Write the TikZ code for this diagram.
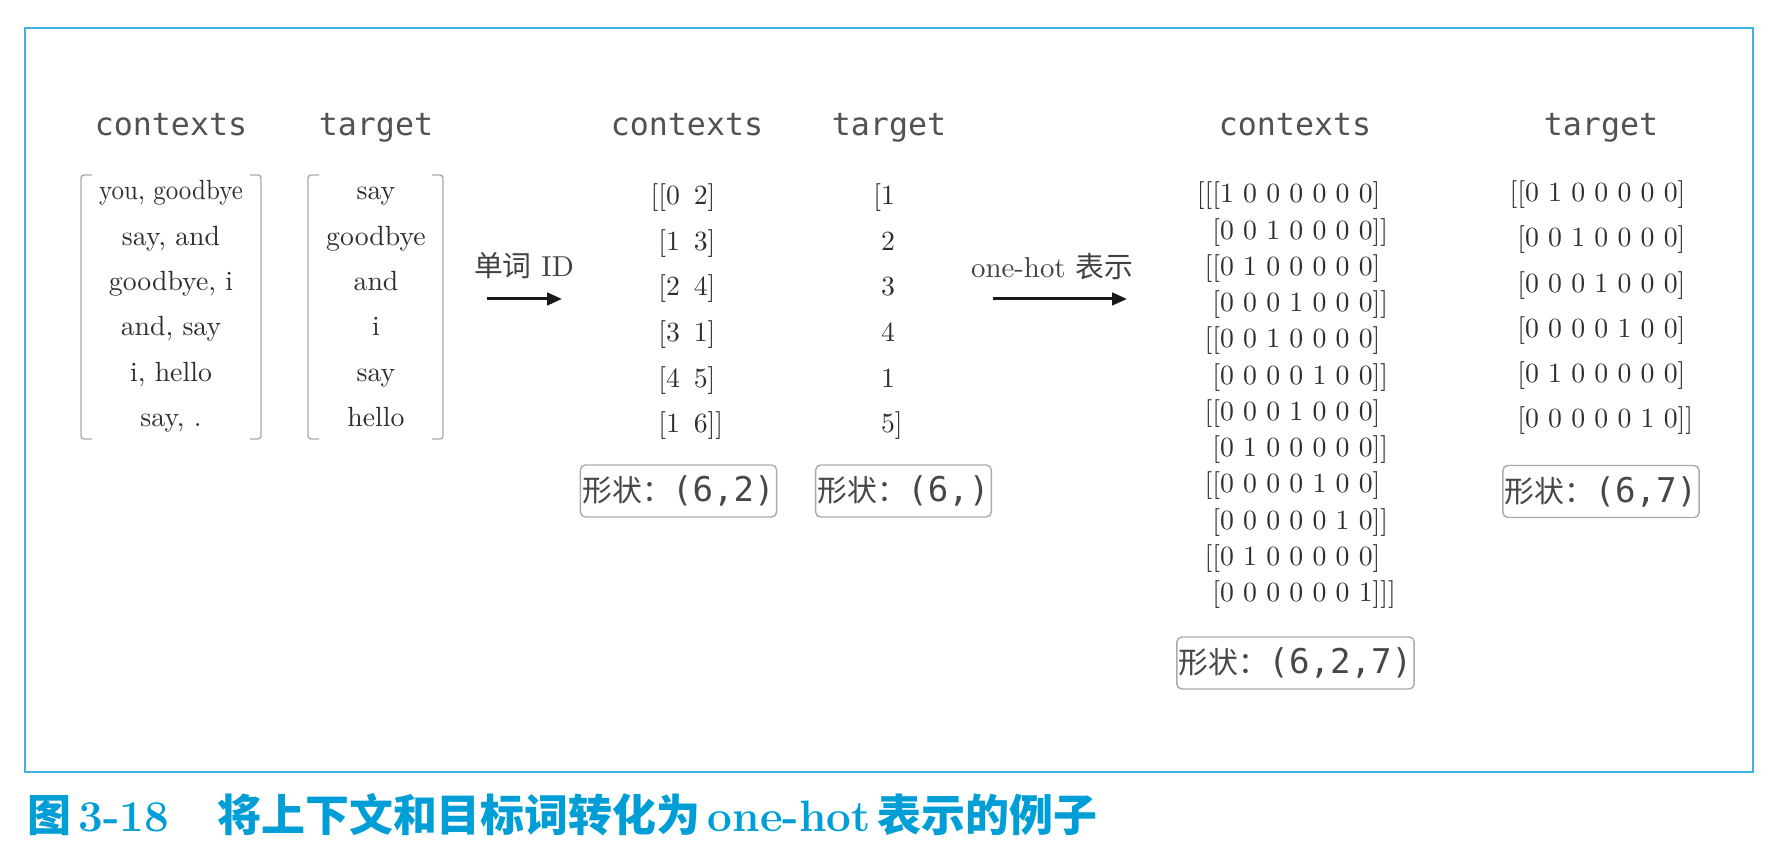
\documentclass[tikz,border=0pt]{standalone}
\usepackage{fontspec}
\usepackage{xcolor}
\usepackage{tikz}
\usetikzlibrary{positioning, arrows.meta, calc}

\newfontfamily\cjk{Noto Sans CJK SC}
\newfontfamily\monofont{DejaVu Sans Mono}
\newfontfamily\cmten{lmroman10-regular}[Extension=.otf]
\definecolor{framecyan}{RGB}{60,178,226}
\definecolor{capblue}{RGB}{0,158,214}
\definecolor{boxgray}{RGB}{170,170,170}

\begin{document}
\begin{tikzpicture}[
    hdr/.style={font=\monofont\fontsize{18}{18}\selectfont, text=black!68, anchor=base},
    row/.style={font=\cmten\fontsize{15.8}{15.8}\selectfont, text=black!82, inner sep=0pt},
    shapebox/.style={draw=boxgray, line width=0.8pt, rounded corners=0.1cm, inner xsep=0.04cm, minimum height=1.04cm, text=black!72, font=\fontsize{17}{17}\selectfont},
    bracket/.style={draw=boxgray, line width=0.8pt, rounded corners=0.06cm},
    arr/.style={line width=1.7pt, black!90, -{Triangle[length=0.3cm,width=0.25cm]}},
    lbl/.style={font=\cmten\fontsize{16.4}{16.4}\selectfont, text=black!75, anchor=base}]
    \useasboundingbox (0,0) rectangle (35.52,17.04);

    % Outer frame
    \draw[framecyan, line width=1.2pt] (0.5,1.6) rectangle (35.06,16.48);

    % Column headers
    \node[hdr] (hc1) at (3.42,14.32) {contexts}; \node[hdr] (ht1) at (7.52,14.32) {target};
    \node[hdr] (hc2) at (13.74,14.32) {contexts}; \node[hdr] (ht2) at (17.78,14.32) {target};
    \node[hdr] (hc3) at (25.9,14.32) {contexts}; \node[hdr] (ht3) at (32.02,14.32) {target};

    % Word lists (brackets)
    \draw[bracket] (1.84,13.54) -- (1.62,13.54) -- (1.62,8.26) -- (1.84,8.26);
    \draw[bracket] (5.0,13.54) -- (5.22,13.54) -- (5.22,8.26) -- (5.0,8.26);
    \draw[bracket] (6.38,13.54) -- (6.16,13.54) -- (6.16,8.26) -- (6.38,8.26);
    \draw[bracket] (8.64,13.54) -- (8.86,13.54) -- (8.86,8.26) -- (8.64,8.26);

    % contexts (words)
    \node[row, anchor=base] (w1) at (3.42,13.04) {\scalebox{0.9}[1]{you, goodbye}};
    \node[row, anchor=base] (w2) at (3.42,12.13) {say, and};
    \node[row, anchor=base] (w3) at (3.42,11.22) {goodbye, i};
    \node[row, anchor=base] (w4) at (3.42,10.32) {and, say};
    \node[row, anchor=base] (w5) at (3.42,9.41) {i, hello};
    \node[row, anchor=base] (w6) at (3.42,8.50) {say, .};
    % target (words)
    \node[row, anchor=base] (v1) at (7.52,13.04) {say};
    \node[row, anchor=base] (v2) at (7.52,12.13) {goodbye};
    \node[row, anchor=base] (v3) at (7.52,11.22) {and};
    \node[row, anchor=base] (v4) at (7.52,10.32) {i};
    \node[row, anchor=base] (v5) at (7.52,9.41) {say};
    \node[row, anchor=base] (v6) at (7.52,8.50) {hello};

    % Arrow: word ID
    \node[lbl] (idlbl) at (10.48,11.5) {{\cjk 单词} ID};
    \coordinate (idA) at (9.74,11.06); \coordinate (idB) at (11.24,11.06);
    \draw[arr] (idA) -- (idB);

    % contexts (IDs)
    \node[row, anchor=base west] (m1) at (13.16,12.94) {\llap{[}[0\enspace2]};
    \node[row, anchor=base west] (m2) at (13.16,12.03) {[1\enspace3]};
    \node[row, anchor=base west] (m3) at (13.16,11.12) {[2\enspace4]};
    \node[row, anchor=base west] (m4) at (13.16,10.20) {[3\enspace1]};
    \node[row, anchor=base west] (m5) at (13.16,9.29) {[4\enspace5]};
    \node[row, anchor=base west] (m6) at (13.16,8.38) {[1\enspace6]]};
    % target (IDs)
    \node[row, anchor=base] (n1) at (17.76,12.94) {\llap{[}1};
    \node[row, anchor=base] (n2) at (17.76,12.03) {2};
    \node[row, anchor=base] (n3) at (17.76,11.12) {3};
    \node[row, anchor=base] (n4) at (17.76,10.20) {4};
    \node[row, anchor=base] (n5) at (17.76,9.29) {1};
    \node[row, anchor=base] (n6) at (17.76,8.38) {5\rlap{]}};

    % Shapes
    \node[shapebox] (s1) at (13.57,7.22) {{\cjk 形状：}{\monofont\fontsize{19.4}{19.4}\selectfont (6,2)}};
    \node[shapebox] (s2) at (18.07,7.22) {{\cjk 形状：}{\monofont\fontsize{19.4}{19.4}\selectfont (6,)}};

    % Arrow: one-hot
    \node[lbl] (ohlbl) at (21.04,11.48) {one-hot {\cjk 表示}};
    \coordinate (ohA) at (19.86,11.06); \coordinate (ohB) at (22.54,11.06);
    \draw[arr] (ohA) -- (ohB);

    % contexts (one-hot)
    \node[row, anchor=base west] (p1) at (24.24,12.98) {\llap{[[}[1 0 0 0 0 0 0]};
    \node[row, anchor=base west] (p2) at (24.24,12.25) {[0 0 1 0 0 0 0]]};
    \node[row, anchor=base west] (p3) at (24.24,11.53) {\llap{[}[0 1 0 0 0 0 0]};
    \node[row, anchor=base west] (p4) at (24.24,10.80) {[0 0 0 1 0 0 0]]};
    \node[row, anchor=base west] (p5) at (24.24,10.08) {\llap{[}[0 0 1 0 0 0 0]};
    \node[row, anchor=base west] (p6) at (24.24,9.35) {[0 0 0 0 1 0 0]]};
    \node[row, anchor=base west] (p7) at (24.24,8.63) {\llap{[}[0 0 0 1 0 0 0]};
    \node[row, anchor=base west] (p8) at (24.24,7.90) {[0 1 0 0 0 0 0]]};
    \node[row, anchor=base west] (p9) at (24.24,7.18) {\llap{[}[0 0 0 0 1 0 0]};
    \node[row, anchor=base west] (p10) at (24.24,6.45) {[0 0 0 0 0 1 0]]};
    \node[row, anchor=base west] (p11) at (24.24,5.73) {\llap{[}[0 1 0 0 0 0 0]};
    \node[row, anchor=base west] (p12) at (24.24,5.00) {[0 0 0 0 0 0 1]]]};
    % target (one-hot)
    \node[row, anchor=base west] (q1) at (30.34,13.00) {\llap{[}[0 1 0 0 0 0 0]};
    \node[row, anchor=base west] (q2) at (30.34,12.10) {[0 0 1 0 0 0 0]};
    \node[row, anchor=base west] (q3) at (30.34,11.19) {[0 0 0 1 0 0 0]};
    \node[row, anchor=base west] (q4) at (30.34,10.29) {[0 0 0 0 1 0 0]};
    \node[row, anchor=base west] (q5) at (30.34,9.38) {[0 1 0 0 0 0 0]};
    \node[row, anchor=base west] (q6) at (30.34,8.48) {[0 0 0 0 0 1 0]]};

    % Shapes
    \node[shapebox] (s3) at (25.91,3.78) {{\cjk 形状：}{\monofont\fontsize{19.4}{19.4}\selectfont (6,2,7)}};
    \node[shapebox] (s4) at (32.02,7.21) {{\cjk 形状：}{\monofont\fontsize{19.4}{19.4}\selectfont (6,7)}};

    % Caption
    \node[anchor=west, inner sep=0pt, text=capblue, font=\fontsize{25}{25}\selectfont\bfseries] (cap) at (0.54,0.74)
        {{\cjk 图}\,3-18\hspace{0.96cm}{\cjk 将上下文和目标词转化为}\,one-hot\,{\cjk 表示的例子}};
\end{tikzpicture}
\end{document}
